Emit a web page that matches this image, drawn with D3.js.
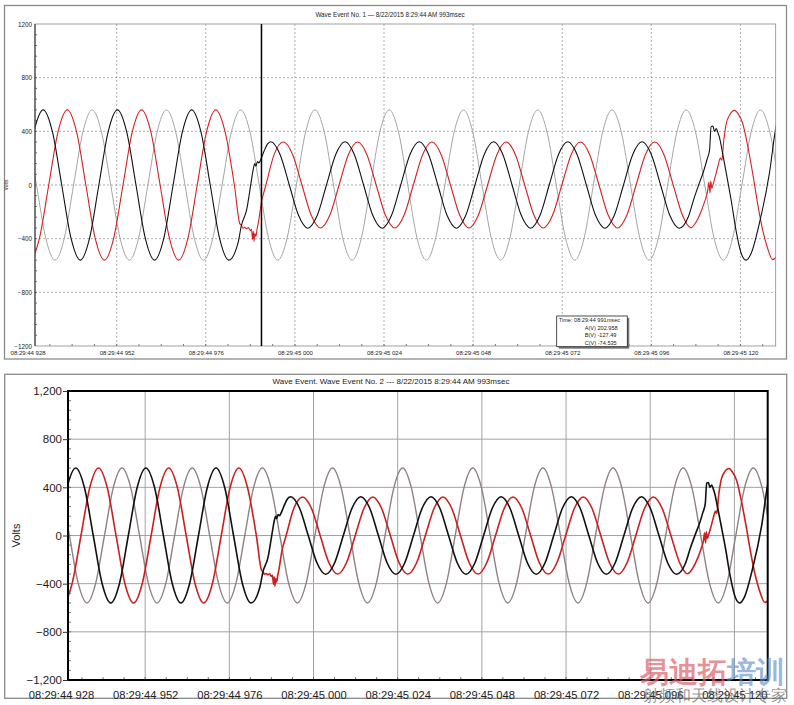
<!DOCTYPE html>
<html><head><meta charset="utf-8">
<script src="https://cdn.jsdelivr.net/npm/d3@7"></script>
<style>body{margin:0;background:#fff}svg{display:block}text{font-family:Arial,"Liberation Sans",sans-serif}</style>
</head><body><svg id="c" width="794" height="705"></svg>
<script>
// time in ms after 08:29:44.928
const xDomainMs = [2.0, 201.5];
const xTickMs = [0,24,48,72,96,120,144,168,192];
const xTickLabels = ["08:29:44 928","08:29:44 952","08:29:44 976","08:29:45 000","08:29:45 024","08:29:45 048","08:29:45 072","08:29:45 096","08:29:45 120"];
const yTicks = [-1200,-800,-400,0,400,800,1200];

// Phase A (black)
const seriesA = [[-0.8,0],[1.7,396],[4.2,560],[6.7,396],[9.2,0],[11.7,-396],[14.2,-560],[16.7,-396],[19.2,0],[21.7,396],[24.2,560],[26.7,396],[29.2,0],[31.7,-396],[34.2,-560],[36.7,-396],[39.2,0],[41.7,396],[44.2,560],[46.7,396],[49.2,0],[51.7,-396],[54.2,-560],[56.7,-430],
[57.6,-300],[59.0,-186],[60.3,37],[60.8,120],[61.2,160],[61.5,140],[61.9,175],[62.3,165],[63.0,203],[63.8,260],[64.6,305],[65.5,322],
[68.0,228],[70.5,0],[73.0,-228],[75.5,-322],[78.0,-228],[80.5,0],[83.0,228],[85.5,322],[88.0,228],[90.5,0],[93.0,-228],[95.5,-322],[98.0,-228],[100.5,0],[103.0,228],[105.5,322],[108.0,228],[110.5,0],[113.0,-228],[115.5,-322],[118.0,-228],[120.5,0],[123.0,228],[125.5,322],[128.0,228],[130.5,0],[133.0,-228],[135.5,-322],[138.0,-228],[140.5,0],[143.0,228],[145.5,322],[148.0,228],[150.5,0],[153.0,-228],[155.5,-322],[158.0,-228],[160.5,0],[163.0,228],[165.5,322],[168.0,228],[170.5,0],[173.0,-228],[175.5,-322],
[178.0,-235],[179.5,-100],[181.0,20],[182.0,95],[183.0,190],[183.7,265],[184.1,435],[184.6,440],[185.0,400],[185.5,420],[186.0,385],[186.3,360],[187.2,236],[188.2,87],[189.5,-112],[190.8,-336],[192.2,-509],[193.5,-560],[194.9,-509],[197.1,-286],[199.8,87],[201.6,435],[202.5,520]];

// Phase B (red)
const seriesB = [[-1.8,-396],[0.7,-560],[3.2,-396],[5.7,0],[8.2,396],[10.7,560],[13.2,396],[15.7,0],[18.2,-396],[20.7,-560],[23.2,-396],[25.7,0],[28.2,396],[30.7,560],[33.2,396],[35.7,0],[38.2,-396],[40.7,-560],[43.2,-396],[45.7,0],[48.2,396],[50.7,560],[53.2,396],[55.7,0],
[57.2,-290],[57.6,-300],[58.0,-322],[58.5,-316],[59.0,-326],[59.5,-318],[60.0,-340],[60.3,-330],[60.6,-405],[60.8,-345],[61.0,-420],[61.2,-360],[61.5,-385],[61.8,-330],[62.1,-290],[63.0,-127],
[64.2,0],[66.4,226],[68.9,320],[71.4,226],[73.9,0],[76.4,-226],[78.9,-320],[81.4,-226],[83.9,0],[86.4,226],[88.9,320],[91.4,226],[93.9,0],[96.4,-226],[98.9,-320],[101.4,-226],[103.9,0],[106.4,226],[108.9,320],[111.4,226],[113.9,0],[116.4,-226],[118.9,-320],[121.4,-226],[123.9,0],[126.4,226],[128.9,320],[131.4,226],[133.9,0],[136.4,-226],[138.9,-320],[141.4,-226],[143.9,0],[146.4,226],[148.9,320],[151.4,226],[153.9,0],[156.4,-226],[158.9,-320],[161.4,-226],[163.9,0],[166.4,226],[168.9,320],[171.4,226],[173.9,0],[176.4,-226],[178.6,-318],
[180.8,-236],[182.4,-120],[183.2,-40],[183.5,20],[183.8,-60],[184.0,30],[184.3,-25],[184.7,10],[185.2,60],[185.9,136],[186.6,200],[187.0,185],[187.5,330],[188.2,460],[189.1,522],[190.4,556],[191.4,530],[192.6,460],[193.9,300],[195.3,87],[196.7,-150],[198.0,-336],[199.2,-460],[200.7,-556],[202.5,-500]];

// Phase C (gray)
const seriesC = [[-2.6,560],[-0.1,396],[2.4,0],[4.9,-396],[7.4,-560],[9.9,-396],[12.4,0],[14.9,396],
[17.4,560],[19.9,396],[22.4,0],[24.9,-396],[27.4,-560],[29.9,-396],[32.4,0],[34.9,396],
[37.4,560],[39.9,396],[42.4,0],[44.9,-396],[47.4,-560],[49.9,-396],[52.4,0],[54.9,396],
[57.4,560],[59.9,396],[62.4,0],[64.9,-396],[67.4,-560],[69.9,-396],[72.4,0],[74.9,396],
[77.4,560],[79.9,396],[82.4,0],[84.9,-396],[87.4,-560],[89.9,-396],[92.4,0],[94.9,396],
[97.4,560],[99.9,396],[102.4,0],[104.9,-396],[107.4,-560],[109.9,-396],[112.4,0],[114.9,396],
[117.4,560],[119.9,396],[122.4,0],[124.9,-396],[127.4,-560],[129.9,-396],[132.4,0],[134.9,396],
[137.4,560],[139.9,396],[142.4,0],[144.9,-396],[147.4,-560],[149.9,-396],[152.4,0],[154.9,396],
[157.4,560],[159.9,396],[162.4,0],[164.9,-396],[167.4,-560],[169.9,-396],[172.4,0],[174.9,396],
[177.4,560],[179.9,396],[182.4,0],[184.9,-396],[187.4,-560],[189.9,-396],[192.4,0],[194.9,396],
[197.4,560],[199.9,396],[202.4,0]];

const cursorMs = 63;
const cursorLines = ["Time: 08:29:44 991msec","A(V) 202.958","B(V) -127.49","C(V) -74.535"];
const title1 = "Wave Event No. 1 \u2014  8/22/2015 8:29:44 AM 993msec";
const title2 = "Wave Event. Wave Event No. 2 ---  8/22/2015 8:29:44 AM 993msec";

const svg = d3.select("#c");

function panel(cfg, id){
  const g = svg.append("g");
  g.append("rect").attr("x",cfg.fx).attr("y",cfg.fy).attr("width",cfg.fw).attr("height",cfg.fh)
    .attr("fill","none").attr("stroke","#8a8a8a").attr("stroke-width",cfg.fsw);
  g.append("text").attr("x",cfg.titleX).attr("y",cfg.titleY).attr("text-anchor","middle")
    .attr("font-size",cfg.titleSize).attr("fill","#222").text(cfg.title);
  const x = d3.scaleLinear().domain(xDomainMs).range([cfg.l,cfg.r]);
  const y = d3.scaleLinear().domain([-1200,1200]).range([cfg.b,cfg.t]);
  // grid
  const inX = xTickMs.filter(d=>d>xDomainMs[0]&&d<xDomainMs[1]);
  g.append("g").selectAll("line").data(inX).join("line")
    .attr("x1",d=>x(d)).attr("x2",d=>x(d)).attr("y1",cfg.t).attr("y2",cfg.b)
    .attr("stroke",cfg.gridColor).attr("stroke-width",cfg.gridW).attr("stroke-dasharray",cfg.dash);
  g.append("g").selectAll("line").data(yTicks.slice(1,-1)).join("line")
    .attr("x1",cfg.l).attr("x2",cfg.r).attr("y1",d=>y(d)).attr("y2",d=>y(d))
    .attr("stroke",cfg.gridColor).attr("stroke-width",cfg.gridW).attr("stroke-dasharray",cfg.dash);
  // minor ticks
  const xMinor = d3.range(6,200,6).filter(d=>d>xDomainMs[0]&&d<xDomainMs[1]);
  g.append("g").selectAll("line").data(xMinor).join("line")
    .attr("x1",d=>x(d)).attr("x2",d=>x(d)).attr("y1",cfg.b).attr("y2",cfg.b-cfg.minorLen)
    .attr("stroke","#555").attr("stroke-width",0.8);
  const yMinor = d3.range(-1120,1200,80);
  g.append("g").selectAll("line").data(yMinor).join("line")
    .attr("x1",cfg.l).attr("x2",cfg.l+cfg.minorLen).attr("y1",d=>y(d)).attr("y2",d=>y(d))
    .attr("stroke","#555").attr("stroke-width",0.8);
  // series
  const clipId = "clip"+id;
  svg.append("clipPath").attr("id",clipId).append("rect")
    .attr("x",cfg.l).attr("y",cfg.t).attr("width",cfg.r-cfg.l).attr("height",cfg.b-cfg.t);
  const line = d3.line().x(d=>x(d[0])).y(d=>y(d[1])).curve(d3.curveMonotoneX);
  const sg = g.append("g").attr("clip-path",`url(#${clipId})`);
  [[seriesC,cfg.cC,cfg.wC],[seriesB,cfg.cB,cfg.wB],[seriesA,cfg.cA,cfg.wA]].forEach(([s,c,w])=>{
    sg.append("path").datum(s).attr("d",line).attr("fill","none").attr("stroke",c)
      .attr("stroke-width",w).attr("stroke-linejoin","round");
  });
  // borders
  if(cfg.thick){
    g.append("rect").attr("x",cfg.l).attr("y",cfg.t).attr("width",cfg.r-cfg.l).attr("height",cfg.b-cfg.t)
      .attr("fill","none").attr("stroke","#000").attr("stroke-width",2);
  } else {
    g.append("rect").attr("x",cfg.l).attr("y",cfg.t).attr("width",cfg.r-cfg.l).attr("height",cfg.b-cfg.t)
      .attr("fill","none").attr("stroke","#8a8a8a").attr("stroke-width",0.8);
    g.append("line").attr("x1",cfg.l).attr("x2",cfg.l).attr("y1",cfg.t).attr("y2",cfg.b)
      .attr("stroke","#222").attr("stroke-width",1);
  }
  // axes labels via d3 axes
  const yAx = d3.axisLeft(y).tickValues(yTicks).tickSize(cfg.majorLen).tickPadding(cfg.yPad)
    .tickFormat(cfg.yFmt);
  const ya = g.append("g").attr("transform",`translate(${cfg.l},0)`).call(yAx);
  ya.select(".domain").remove();
  ya.selectAll("text").attr("font-size",cfg.ySize).attr("fill","#222").attr("font-family","Arial, 'Liberation Sans', sans-serif");
  ya.selectAll("line").attr("stroke","#333");
  const xAx = d3.axisBottom(x).tickValues(xTickMs).tickSize(0).tickPadding(cfg.xPad)
    .tickFormat((d,i)=>xTickLabels[i]);
  const xa = g.append("g").attr("transform",`translate(0,${cfg.b})`).call(xAx);
  xa.select(".domain").remove();
  xa.selectAll("text").attr("font-size",cfg.xSize).attr("fill","#222").attr("font-family","Arial, 'Liberation Sans', sans-serif");
  // y label
  g.append("text").attr("transform",`translate(${cfg.vx},${(cfg.t+cfg.b)/2}) rotate(-90)`)
    .attr("text-anchor","middle").attr("font-size",cfg.vSize).attr("fill","#222").text("Volts");
  return {g,x,y};
}

const p1 = panel({fx:4.5,fy:5.5,fw:782,fh:353.5,fsw:1.3,title:title1,titleX:390,titleY:17.3,titleSize:6.3,
  l:35,r:775.7,t:24,b:346,gridColor:"#9a9a9a",gridW:0.8,dash:"2,2",minorLen:2,majorLen:0,
  yPad:3,xPad:5,yFmt:d3.format("d"),ySize:6.3,xSize:6,vx:8,vSize:5,thick:false,
  cA:"#111",cB:"#d42222",cC:"#a5a5a5",wA:1.1,wB:1.1,wC:1.0},1);

// cursor + tooltip in panel 1
p1.g.append("line").attr("x1",p1.x(cursorMs)).attr("x2",p1.x(cursorMs)).attr("y1",24).attr("y2",346)
  .attr("stroke","#000").attr("stroke-width",1.5);
const tip = p1.g.append("g").attr("transform","translate(556.7,316)");
tip.append("rect").attr("x",2).attr("y",2).attr("width",70.6).attr("height",30.7).attr("fill","#777");
tip.append("rect").attr("width",70.6).attr("height",30.7).attr("fill","#fff").attr("stroke","#222").attr("stroke-width",0.8);
tip.selectAll("text").data(cursorLines).join("text")
  .attr("x",(d,i)=>i===0?2:28).attr("y",(d,i)=>6.3+i*7.4)
  .attr("font-size",5.6).attr("fill","#222").text(d=>d);

const p2 = panel({fx:4.7,fy:374.3,fw:782,fh:324,fsw:1.3,title:title2,titleX:391,titleY:383.5,titleSize:8,
  l:68,r:767.7,t:391,b:680,gridColor:"#a3a3a3",gridW:1,dash:null,minorLen:3,majorLen:5,
  yPad:1,xPad:11,yFmt:d3.format(","),ySize:11.5,xSize:11.2,vx:20,vSize:11,thick:true,
  cA:"#111",cB:"#cc1f1f",cC:"#8f8282",wA:1.6,wB:1.6,wC:1.4},2);

// watermark
const wm = svg.append("g").attr("font-family","'Noto Sans CJK SC', sans-serif");
const w1 = wm.append("text").attr("x",640).attr("y",682).attr("font-size",29).attr("font-weight","bold");
w1.append("tspan").attr("fill","rgba(220,95,105,0.7)").text("易迪拓");
w1.append("tspan").attr("fill","rgba(95,140,200,0.65)").text("培训");
wm.append("text").attr("x",643).attr("y",701).attr("font-size",16).attr("fill","rgba(90,90,90,0.65)").text("射频和天线设计专家");
</script></body></html>
